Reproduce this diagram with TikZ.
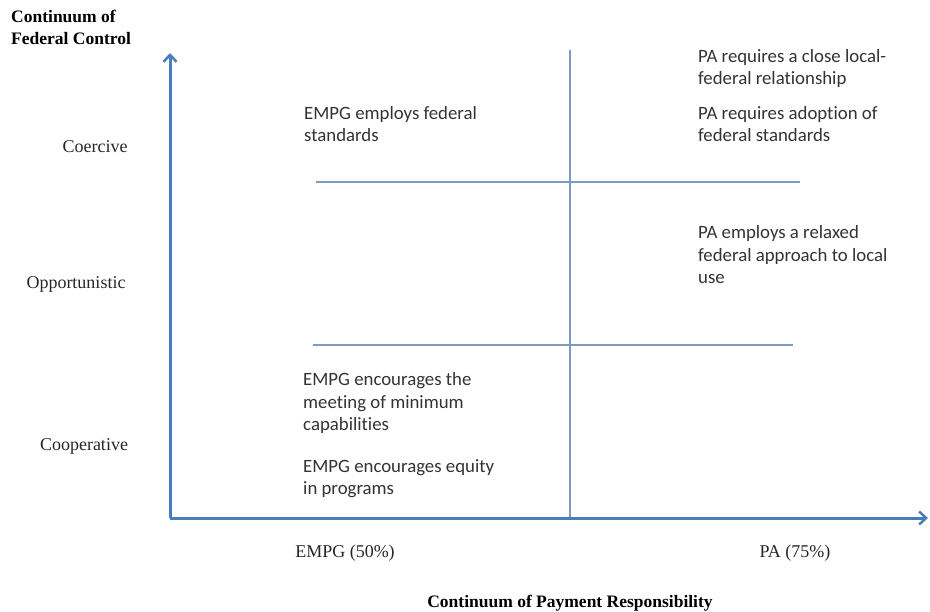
\documentclass[tikz,border=0pt]{standalone}
\usepackage{fontspec}
\setmainfont{Liberation Serif}
\newfontfamily\bodyfont[Ligatures=NoCommon]{Carlito}
\usetikzlibrary{arrows.meta}
\definecolor{axisblue}{HTML}{4A7EBB}
\definecolor{thinblue}{HTML}{7F9BBF}
\tikzset{
  axis/.style={draw=axisblue, line width=3pt, -{Straight Barb[length=7pt,width=13pt,line width=2.5pt]}},
  divider/.style={draw=thinblue, line width=1.1pt},
  lvl/.style={font=\fontsize{18}{22}\selectfont, text=black!85, inner sep=0pt},
  ttl/.style={font=\fontsize{17.5}{22}\selectfont\bfseries, text=black, inner sep=0pt, align=left},
  note/.style={font=\bodyfont\fontsize{18.8}{22.6}\selectfont, text=black!80, inner sep=0pt, align=left, anchor=base west},
}
\begin{document}
\begin{tikzpicture}[x=1pt,y=-1pt]
\useasboundingbox (0,0) rectangle (930,612);
% axes
\coordinate (o) at (170,518);
\coordinate (ytip) at (170,53);
\coordinate (xtip) at (928,518);
\coordinate (vtop) at (570,50);
\coordinate (vbot) at (570,518);
\coordinate (h1a) at (316,182);
\coordinate (h1b) at (800,182);
\coordinate (h2a) at (313,345);
\coordinate (h2b) at (793,345);
\draw[divider] (vtop) -- (vbot);
\draw[divider] (h1a) -- (h1b);
\draw[divider] (h2a) -- (h2b);
\draw[axis] (o) -- (ytip);
\draw[axis] (o) -- (xtip);
% titles (base anchor = last line)
\node[ttl, anchor=base west] (ytitle) at (11,45) {Continuum of\\Federal Control};
\node[ttl, anchor=base] (xtitle) at (570,607) {Continuum of Payment Responsibility};
% level labels
\node[lvl, anchor=base] (coer) at (95,153) {Coercive};
\node[lvl, anchor=base] (oppo) at (76,289) {Opportunistic};
\node[lvl, anchor=base] (coop) at (84,451) {Cooperative};
\node[lvl, anchor=base] (empg) at (345,557) {EMPG (50\%)};
\node[lvl, anchor=base] (pa) at (795,557) {PA (75\%)};
% notes (base anchor = last line)
\node[note] (n1) at (304,142) {EMPG employs federal\\standards};
\node[note] (n2) at (698,85) {PA requires a close local-\\federal relationship};
\node[note] (n3) at (698,142) {PA requires adoption of\\federal standards};
\node[note] (n4) at (698,284) {PA employs a relaxed\\federal approach to local\\use};
\node[note] (n5) at (303,431) {EMPG encourages the\\meeting of minimum\\capabilities};
\node[note] (n6) at (303,495) {EMPG encourages equity\\in programs};
\end{tikzpicture}
\end{document}
